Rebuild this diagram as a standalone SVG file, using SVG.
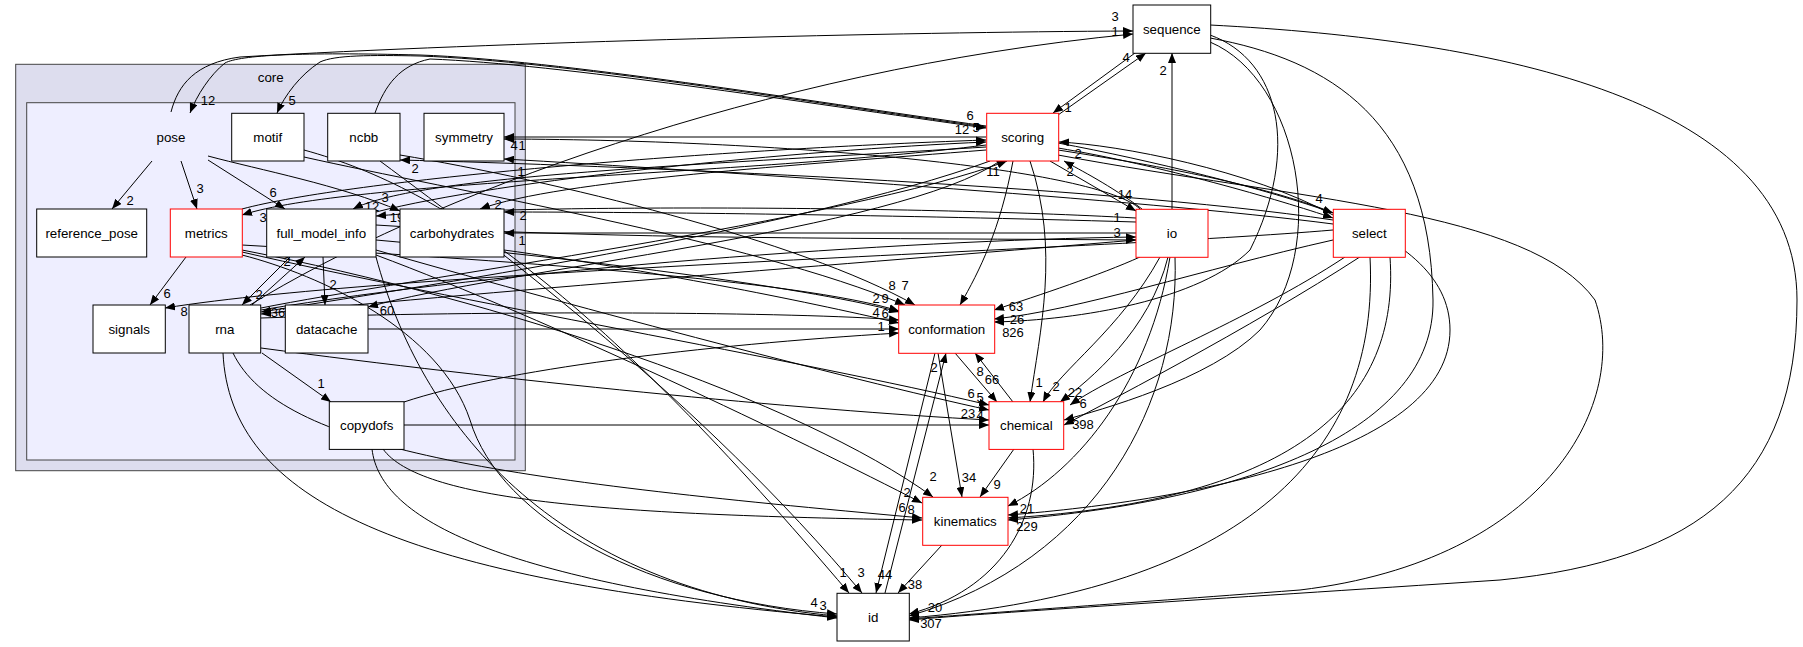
<svg xmlns="http://www.w3.org/2000/svg" width="1803" height="647" viewBox="0 0 1803 647">
<defs>
<style>
text{font-family:"Liberation Sans",Arial,sans-serif;font-size:13.33px;fill:#000}
.n{text-anchor:middle}
.l{text-anchor:middle;font-size:13px}
.b{fill:#fff;stroke:#000;stroke-width:1}
.r{fill:#fff;stroke:#ff0000;stroke-width:1}
.e{fill:none;stroke:#000;stroke-width:1;marker-end:url(#a)}
</style>
<marker id="a" viewBox="0 0 10 8" refX="10" refY="4" markerWidth="10" markerHeight="8" markerUnits="userSpaceOnUse" orient="auto"><path d="M0,0L10,4L0,8z" fill="#000"/></marker>
</defs>
<rect width="1803" height="647" fill="#fff"/>
<g id="cluster_core">
<rect x="15.7" y="64.3" width="509.6" height="406.4" fill="#ddddee" stroke="#444"/>
<text class="n" x="270.7" y="81.5">core</text>
</g>
<g id="cluster_pose">
<rect x="26.7" y="102.7" width="488.3" height="357.3" fill="#eeeeff" stroke="#444"/>
</g>
<g id="connectors">
<path class="e" d="M152,161L112,209"/>
<path class="e" d="M181,161L197,209"/>
<path class="e" d="M208,160L285,209"/>
<path class="e" d="M208,156C260,170 340,185 400,211"/>
<path class="e" d="M186,257L150,305"/>
<path class="e" d="M290,257L242,305"/>
<path class="e" d="M252,305L305,257"/>
<path class="e" d="M323,257L325,305"/>
<path class="e" d="M262,353L331,402"/>
<path class="e" d="M171,112C178,85 195,63 240,57C500,42 900,32 1133,31"/>
<path class="e" d="M250,305C420,200 760,70 1133,34"/>
<path class="e" d="M1058,115L1146,53"/>
<path class="e" d="M1135,53L1053,113"/>
<path class="e" d="M1172,209L1172,53"/>
<path class="e" d="M986,126C800,100 560,60 420,55C300,52 240,55 225,63C210,75 197,95 190,113"/>
<path class="e" d="M986,127C800,101 560,61 420,56C370,55 335,55 320,62C300,75 285,95 277,113"/>
<path class="e" d="M375,113C385,85 400,65 430,59C560,64 800,102 986,128"/>
<path class="e" d="M986,137L504,137"/>
<path class="e" d="M1140,209C1100,170 800,140 504,139"/>
<path class="e" d="M1333,224C1150,200 700,170 504,159"/>
<path class="e" d="M986,150C800,165 560,180 480,209"/>
<path class="e" d="M1136,222C900,215 650,212 504,212"/>
<path class="e" d="M1136,233L504,233"/>
<path class="e" d="M1333,220C1100,185 600,165 400,160"/>
<path class="e" d="M986,145C750,175 350,180 242,215"/>
<path class="e" d="M242,209C350,180 700,150 986,140"/>
<path class="e" d="M376,212C500,180 800,150 986,142"/>
<path class="e" d="M986,147C700,165 420,175 353,209"/>
<path class="e" d="M1136,218C900,205 500,205 376,216"/>
<path class="e" d="M1000,161C900,230 500,270 368,307"/>
<path class="e" d="M990,161C800,230 400,290 261,312"/>
<path class="e" d="M1136,240C900,260 500,290 261,314"/>
<path class="e" d="M261,308C400,280 850,220 1007,161"/>
<path class="e" d="M261,310C500,270 900,240 1136,237"/>
<path class="e" d="M376,225C600,240 900,238 1136,240"/>
<path class="e" d="M1333,230C1100,250 400,270 165,308"/>
<path class="e" d="M1050,161L1136,211"/>
<path class="e" d="M1142,209C1110,185 1080,170 1064,161"/>
<path class="e" d="M1333,215C1250,170 1120,145 1059,142"/>
<path class="e" d="M1058,143C1150,160 1270,190 1333,213"/>
<path class="e" d="M1058,148C1160,165 1280,200 1333,218"/>
<path class="e" d="M368,329L899,329"/>
<path class="e" d="M404,402C500,370 700,345 899,333"/>
<path class="e" d="M304,157C450,190 750,240 905,305"/>
<path class="e" d="M400,155C550,180 800,240 915,305"/>
<path class="e" d="M242,245C500,260 800,280 899,311"/>
<path class="e" d="M376,240C600,260 820,290 899,312"/>
<path class="e" d="M261,318C500,310 800,312 899,320"/>
<path class="e" d="M504,250C650,270 800,300 899,323"/>
<path class="e" d="M1140,257C1100,275 1040,295 994,310"/>
<path class="e" d="M1333,240C1200,270 1080,310 994,319"/>
<path class="e" d="M1210,35C1280,60 1300,150 1250,250C1200,300 1080,320 994,322"/>
<path class="e" d="M1013,161C1000,230 980,270 960,305"/>
<path class="e" d="M955,353L997,402"/>
<path class="e" d="M1013,402L975,353"/>
<path class="e" d="M1030,161C1060,250 1040,330 1030,402"/>
<path class="e" d="M1160,257C1120,330 1060,370 1043,402"/>
<path class="e" d="M1168,257C1150,330 1090,380 1060,402"/>
<path class="e" d="M1345,257C1250,320 1120,370 1070,405"/>
<path class="e" d="M1210,42C1300,80 1330,250 1260,330C1210,380 1100,410 1064,420"/>
<path class="e" d="M1400,230C1300,300 1150,380 1064,425"/>
<path class="e" d="M242,252C450,300 800,360 989,405"/>
<path class="e" d="M376,250C550,300 850,380 989,410"/>
<path class="e" d="M261,348C500,380 800,410 989,420"/>
<path class="e" d="M404,425L989,425"/>
<path class="e" d="M938,353L962,497"/>
<path class="e" d="M1014,449L980,497"/>
<path class="e" d="M242,250C500,300 800,400 933,497"/>
<path class="e" d="M376,255C550,320 800,440 922,503"/>
<path class="e" d="M233,353C280,450 500,480 922,518"/>
<path class="e" d="M383,449C420,500 600,515 922,520"/>
<path class="e" d="M1170,257C1150,380 1080,470 1008,506"/>
<path class="e" d="M1390,257C1400,400 1300,500 1008,518"/>
<path class="e" d="M1058,150C1250,180 1450,220 1450,330C1450,450 1200,500 1008,515"/>
<path class="e" d="M1210,38C1330,60 1430,120 1433,300C1435,430 1250,500 1008,520"/>
<path class="e" d="M935,353L876,593"/>
<path class="e" d="M885,593L946,353"/>
<path class="e" d="M942,545L898,593"/>
<path class="e" d="M304,150C450,190 600,300 849,593"/>
<path class="e" d="M380,161C500,250 700,400 862,593"/>
<path class="e" d="M242,255C320,275 440,330 470,420C500,520 650,600 837,614"/>
<path class="e" d="M376,257C420,420 550,590 837,616"/>
<path class="e" d="M223,353C230,500 400,580 837,617"/>
<path class="e" d="M372,449C380,520 500,580 837,618"/>
<path class="e" d="M1033,449C1040,520 1000,590 909,614"/>
<path class="e" d="M1175,257C1180,400 1100,560 909,616"/>
<path class="e" d="M1370,257C1380,450 1250,590 909,618"/>
<path class="e" d="M1058,155C1300,200 1530,210 1595,300C1630,400 1550,560 1300,590C1100,605 1000,612 909,619"/>
<path class="e" d="M1210,25C1500,40 1797,100 1797,300C1797,480 1700,560 1500,580C1200,600 1000,612 909,620"/>
<text class="l" x="130" y="205">2</text>
<text class="l" x="200" y="193">3</text>
<text class="l" x="273" y="197">6</text>
<text class="l" x="385" y="202">3</text>
<text class="l" x="167" y="298">6</text>
<text class="l" x="259" y="299">2</text>
<text class="l" x="287" y="266">2</text>
<text class="l" x="333" y="289">2</text>
<text class="l" x="321" y="388">1</text>
<text class="l" x="1115" y="21">3</text>
<text class="l" x="1115" y="36">1</text>
<text class="l" x="1126" y="62">4</text>
<text class="l" x="1068" y="112">1</text>
<text class="l" x="1163" y="75">2</text>
<text class="l" x="208" y="105">12</text>
<text class="l" x="292" y="105">5</text>
<text class="l" x="970" y="120">6</text>
<text class="l" x="976" y="132">5</text>
<text class="l" x="962" y="134">12</text>
<text class="l" x="514" y="150">4</text>
<text class="l" x="522" y="150">1</text>
<text class="l" x="521" y="176">1</text>
<text class="l" x="498" y="209">2</text>
<text class="l" x="523" y="220">2</text>
<text class="l" x="522" y="245">1</text>
<text class="l" x="415" y="173">2</text>
<text class="l" x="263" y="222">3</text>
<text class="l" x="372" y="211">12</text>
<text class="l" x="397" y="222">19</text>
<text class="l" x="387" y="315">60</text>
<text class="l" x="278" y="317">36</text>
<text class="l" x="291" y="317">8</text>
<text class="l" x="184" y="316">8</text>
<text class="l" x="993" y="176">11</text>
<text class="l" x="1125" y="199">14</text>
<text class="l" x="1117" y="222">1</text>
<text class="l" x="1117" y="237">3</text>
<text class="l" x="1070" y="176">2</text>
<text class="l" x="1078" y="158">2</text>
<text class="l" x="1319" y="203">4</text>
<text class="l" x="892" y="290">8</text>
<text class="l" x="905" y="290">7</text>
<text class="l" x="876" y="303">2</text>
<text class="l" x="885" y="303">9</text>
<text class="l" x="876" y="317">4</text>
<text class="l" x="885" y="318">6</text>
<text class="l" x="881" y="331">1</text>
<text class="l" x="1016" y="311">63</text>
<text class="l" x="1017" y="324">26</text>
<text class="l" x="1013" y="337">826</text>
<text class="l" x="992" y="384">66</text>
<text class="l" x="980" y="376">8</text>
<text class="l" x="1039" y="387">1</text>
<text class="l" x="1056" y="391">2</text>
<text class="l" x="1075" y="397">22</text>
<text class="l" x="1083" y="408">6</text>
<text class="l" x="1083" y="429">398</text>
<text class="l" x="971" y="398">6</text>
<text class="l" x="980" y="402">5</text>
<text class="l" x="968" y="418">23</text>
<text class="l" x="980" y="420">4</text>
<text class="l" x="969" y="482">34</text>
<text class="l" x="997" y="489">9</text>
<text class="l" x="933" y="481">2</text>
<text class="l" x="907" y="497">2</text>
<text class="l" x="902" y="512">6</text>
<text class="l" x="911" y="514">8</text>
<text class="l" x="1027" y="513">21</text>
<text class="l" x="1027" y="531">229</text>
<text class="l" x="934" y="372">2</text>
<text class="l" x="885" y="579">44</text>
<text class="l" x="915" y="589">38</text>
<text class="l" x="843" y="577">1</text>
<text class="l" x="861" y="577">3</text>
<text class="l" x="814" y="607">4</text>
<text class="l" x="823" y="610">3</text>
<text class="l" x="935" y="612">20</text>
<text class="l" x="931" y="628">307</text>
</g>
<g id="pose"><text class="n" x="171" y="141.5">pose</text></g>
<g id="motif"><rect class="b" x="231.7" y="113.3" width="72.3" height="47.7"/><text class="n" x="267.8" y="141.8">motif</text></g>
<g id="ncbb"><rect class="b" x="327.7" y="113.3" width="72.3" height="47.7"/><text class="n" x="363.8" y="141.8">ncbb</text></g>
<g id="symmetry"><rect class="b" x="424" y="113.3" width="80" height="47.7"/><text class="n" x="464" y="141.8">symmetry</text></g>
<g id="reference_pose"><rect class="b" x="36.7" y="209" width="110" height="48"/><text class="n" x="91.7" y="237.6">reference_pose</text></g>
<g id="metrics"><rect class="r" x="170.3" y="209" width="72" height="48"/><text class="n" x="206.3" y="237.6">metrics</text></g>
<g id="full_model_info"><rect class="b" x="266.7" y="209" width="109.3" height="48"/><text class="n" x="321.3" y="237.6">full_model_info</text></g>
<g id="carbohydrates"><rect class="b" x="400" y="209" width="104" height="48"/><text class="n" x="452" y="237.6">carbohydrates</text></g>
<g id="signals"><rect class="b" x="93" y="305" width="72.3" height="48"/><text class="n" x="129.2" y="333.6">signals</text></g>
<g id="rna"><rect class="b" x="189" y="305" width="71.7" height="48"/><text class="n" x="224.8" y="333.6">rna</text></g>
<g id="datacache"><rect class="b" x="285.3" y="305" width="82.7" height="48"/><text class="n" x="326.7" y="333.6">datacache</text></g>
<g id="copydofs"><rect class="b" x="329.3" y="401.7" width="74.7" height="47.7"/><text class="n" x="366.7" y="430.2">copydofs</text></g>
<g id="sequence"><rect class="b" x="1133" y="5" width="77.7" height="48.3"/><text class="n" x="1171.8" y="33.7">sequence</text></g>
<g id="scoring"><rect class="r" x="986.7" y="113.3" width="72" height="47.7"/><text class="n" x="1022.7" y="141.8">scoring</text></g>
<g id="io"><rect class="r" x="1136" y="209.3" width="72" height="48"/><text class="n" x="1172" y="237.9">io</text></g>
<g id="select"><rect class="r" x="1333.3" y="209.3" width="72" height="48"/><text class="n" x="1369.3" y="237.9">select</text></g>
<g id="conformation"><rect class="r" x="898.7" y="305" width="96" height="48.3"/><text class="n" x="946.7" y="333.7">conformation</text></g>
<g id="chemical"><rect class="r" x="989" y="401.7" width="74.7" height="47.7"/><text class="n" x="1026.3" y="430.2">chemical</text></g>
<g id="kinematics"><rect class="r" x="922.7" y="497.3" width="85.3" height="48"/><text class="n" x="965.3" y="525.9">kinematics</text></g>
<g id="id"><rect class="b" x="837" y="593.3" width="72.3" height="47.7"/><text class="n" x="873.2" y="621.8">id</text></g>
</svg>
